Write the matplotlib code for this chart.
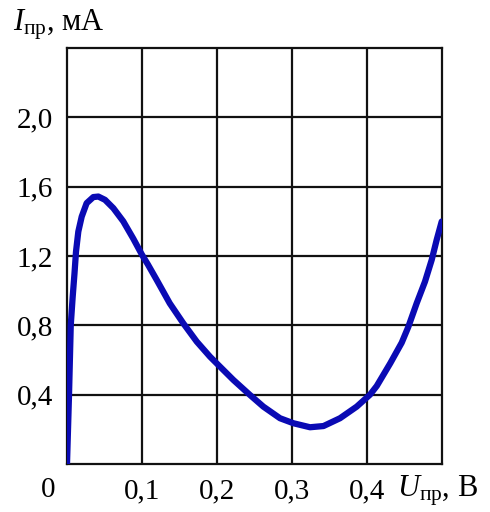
import matplotlib
matplotlib.use("Agg")
import matplotlib.pyplot as plt

plt.rcParams['mathtext.fontset'] = 'custom'
plt.rcParams['mathtext.rm'] = 'Liberation Serif'
plt.rcParams['mathtext.it'] = 'Liberation Serif:italic'
plt.rcParams['font.family'] = ['Liberation Serif', 'DejaVu Serif']

# Data (U in volts, I in mA)
u_vals = [0.000, 0.0027, 0.005, 0.0075, 0.010, 0.012, 0.0151, 0.0196, 0.0262,
          0.0351, 0.0418, 0.0507, 0.0618, 0.075, 0.0884, 0.0996, 0.108,
          0.1196, 0.137, 0.155, 0.173, 0.1907, 0.2018, 0.2218, 0.244, 0.2618,
          0.284, 0.302, 0.324, 0.342, 0.364, 0.3863, 0.404, 0.413, 0.431,
          0.4463, 0.455, 0.4663, 0.4773, 0.4863, 0.4929, 0.4996]
i_vals = [0.000, 0.400, 0.800, 0.960, 1.100, 1.225, 1.341, 1.427, 1.505,
          1.540, 1.543, 1.524, 1.476, 1.400, 1.300, 1.210, 1.150,
          1.062, 0.927, 0.812, 0.706, 0.619, 0.571, 0.485, 0.398, 0.331,
          0.264, 0.235, 0.212, 0.219, 0.264, 0.331, 0.400, 0.450, 0.581,
          0.700, 0.790, 0.928, 1.052, 1.178, 1.293, 1.399]

x_ticks = [0.1, 0.2, 0.3, 0.4]
x_labels = ['0,1', '0,2', '0,3', '0,4']
y_ticks = [0.4, 0.8, 1.2, 1.6, 2.0]
y_labels = ['0,4', '0,8', '1,2', '1,6', '2,0']

fig = plt.figure(figsize=(4.9, 5.12), dpi=100)
ax = fig.add_axes([67/490, 48/512, (442-67)/490, (464-48)/512])

ax.plot(u_vals, i_vals, color='#0a0ab4', lw=4.5, solid_capstyle='round',
        solid_joinstyle='round', zorder=3)

ax.set_xlim(0, 0.5)
ax.set_ylim(0, 2.4)
ax.set_xticks(x_ticks)
ax.set_xticklabels(x_labels)
ax.set_yticks(y_ticks)
ax.set_yticklabels(y_labels)
ax.tick_params(length=0, labelsize=21)
ax.tick_params(axis='y', pad=10)
ax.tick_params(axis='x', pad=10)
ax.grid(True, color='#111111', lw=1.6)
for s in ax.spines.values():
    s.set_linewidth(1.6)
    s.set_color('#111111')

# "0" at origin
ax.text(-0.05, -0.079, '0', transform=ax.transAxes, ha='center',
        va='baseline', fontsize=21)

# axis labels
ax.text(0.88, -0.079, r'$U_{\mathrm{пр}}$, В', transform=ax.transAxes,
        ha='left', va='baseline', fontsize=22)
ax.text(-0.144, 1.043, r'$I_{\mathrm{пр}}$, мА', transform=ax.transAxes,
        ha='left', va='baseline', fontsize=22)

fig.savefig('out.png', dpi=100)
